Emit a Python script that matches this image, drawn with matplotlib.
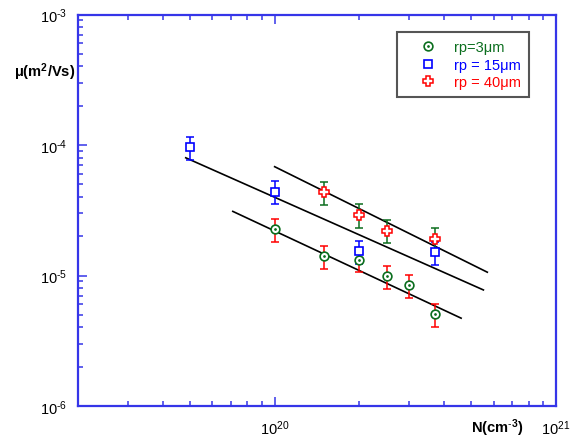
import matplotlib
matplotlib.use('Agg')
import matplotlib.pyplot as plt
from matplotlib.legend_handler import HandlerTuple
from matplotlib.ticker import LogLocator, NullFormatter, FuncFormatter
import math

plt.rcParams['font.family'] = ['Liberation Sans', 'DejaVu Sans']
plt.rcParams['mathtext.fontset'] = 'custom'
plt.rcParams['mathtext.rm'] = 'Liberation Sans'
plt.rcParams['mathtext.it'] = 'Liberation Sans:italic'
plt.rcParams['mathtext.bf'] = 'Liberation Sans:bold'

# ---- data ----
labels = ['rp=3μm', 'rp = 15μm', 'rp = 40μm']

n_3um = [1.0e20, 1.5e20, 2.0e20, 2.5e20, 3.0e20, 3.7e20]
mu_3um = [2.27e-5, 1.40e-5, 1.32e-5, 0.99e-5, 0.845e-5, 0.503e-5]
err_3um = [0.46e-5, 0.28e-5, 0.26e-5, 0.20e-5, 0.17e-5, 0.10e-5]

n_15um = [5.0e19, 1.0e20, 2.0e20, 3.7e20]
mu_15um = [9.57e-5, 4.40e-5, 1.54e-5, 1.51e-5]
err_15um = [1.9e-5, 0.88e-5, 0.31e-5, 0.30e-5]

n_40um = [1.5e20, 2.0e20, 2.5e20, 3.7e20]
mu_40um = [4.36e-5, 2.91e-5, 2.20e-5, 1.92e-5]
err_40um = [0.87e-5, 0.60e-5, 0.44e-5, 0.38e-5]

fit_upper_n = [1.0e20, 5.7e20]
fit_upper_mu = [6.82e-5, 1.06e-5]
fit_mid_n = [4.83e19, 5.52e20]
fit_mid_mu = [7.98e-5, 7.75e-6]
fit_low_n = [7.1e19, 4.6e20]
fit_low_mu = [3.1e-5, 4.71e-6]

GREEN = '#0b6e1e'
BLUE = '#0000ff'
RED = '#ff0000'
AXC = '#3535e8'

W, H = 574, 439
fig = plt.figure(figsize=(W / 100, H / 100), dpi=100)
ax = fig.add_axes([78 / W, 1 - 407 / H, (556 - 78) / W, (407 - 15.5) / H])
ax.set_xscale('log')
ax.set_yscale('log')
ax.set_xlim(2e19, 1e21)
ax.set_ylim(1e-6, 1e-3)

# fit lines
for xs, ys in [(fit_upper_n, fit_upper_mu), (fit_mid_n, fit_mid_mu), (fit_low_n, fit_low_mu)]:
    ax.plot(xs, ys, color='black', lw=1.2, zorder=2)

ekw = dict(fmt='none', elinewidth=1.1, capsize=2.8, capthick=1.1, zorder=3)
ax.errorbar(n_3um, mu_3um, yerr=err_3um, ecolor=RED, **ekw)
ax.errorbar(n_15um, mu_15um, yerr=err_15um, ecolor=BLUE, **ekw)
ax.errorbar(n_40um, mu_40um, yerr=err_40um, ecolor=GREEN, **ekw)

c1, = ax.plot(n_3um, mu_3um, 'o', ms=6.3, mfc='white', mec=GREEN, mew=1.2, ls='none', zorder=4)
c2, = ax.plot(n_3um, mu_3um, 'o', ms=1.4, mfc=GREEN, mec=GREEN, mew=0.5, ls='none', zorder=5)
s1, = ax.plot(n_15um, mu_15um, 's', ms=6.2, mfc='white', mec=BLUE, mew=1.2, ls='none', zorder=4)
p1, = ax.plot(n_40um, mu_40um, 'P', ms=7, mfc='white', mec=RED, mew=1.1, ls='none', zorder=4)


def fmt(v, pos):
    e = int(round(math.log10(v)))
    if e < 0:
        return r'$\mathdefault{10^{\text{-}%d}}$' % (-e)
    return r'$\mathdefault{10^{%d}}$' % e


# axes styling
for sp in ax.spines.values():
    sp.set_color(AXC)
    sp.set_linewidth(1.6)
ax.xaxis.set_major_locator(LogLocator(base=10, numticks=10))
ax.xaxis.set_minor_locator(LogLocator(base=10, subs=range(2, 10), numticks=30))
ax.yaxis.set_major_locator(LogLocator(base=10, numticks=10))
ax.yaxis.set_minor_locator(LogLocator(base=10, subs=range(2, 10), numticks=30))
ax.xaxis.set_major_formatter(FuncFormatter(fmt))
ax.yaxis.set_major_formatter(FuncFormatter(fmt))
ax.xaxis.set_minor_formatter(NullFormatter())
ax.yaxis.set_minor_formatter(NullFormatter())
ax.tick_params(which='both', direction='in', top=True, right=False, color=AXC,
               labelsize=10.5, width=1.1)
ax.tick_params(which='major', length=6.5)
ax.tick_params(which='minor', length=3.6)
ax.tick_params(axis='x', which='major', pad=9)
ax.tick_params(axis='y', which='major', pad=8)

fig.text(45 / W, 1 - 72 / H, r'μ(m$\mathbf{^{2}}$/Vs)', weight='bold', fontsize=10.5,
         ha='center', va='center')
fig.text(497 / W, 1 - 428 / H, r'N(cm$\mathbf{^{\text{-}3}}$)', weight='bold', fontsize=10.5,
         ha='center', va='center')

leg = ax.legend([(c1, c2), s1, p1], labels,
                handler_map={tuple: HandlerTuple(ndivide=1, pad=0)},
                loc='upper left', bbox_to_anchor=(397 / W, 1 - 33 / H),
                bbox_transform=fig.transFigure, borderaxespad=0, fontsize=10.5,
                labelcolor=[GREEN, BLUE, RED], frameon=True, fancybox=False,
                edgecolor='#555555', framealpha=1, handlelength=3.2, handletextpad=0.15,
                borderpad=0.55, labelspacing=0.25)
leg.get_frame().set_linewidth(1.5)

fig.savefig('out.png', dpi=100)
